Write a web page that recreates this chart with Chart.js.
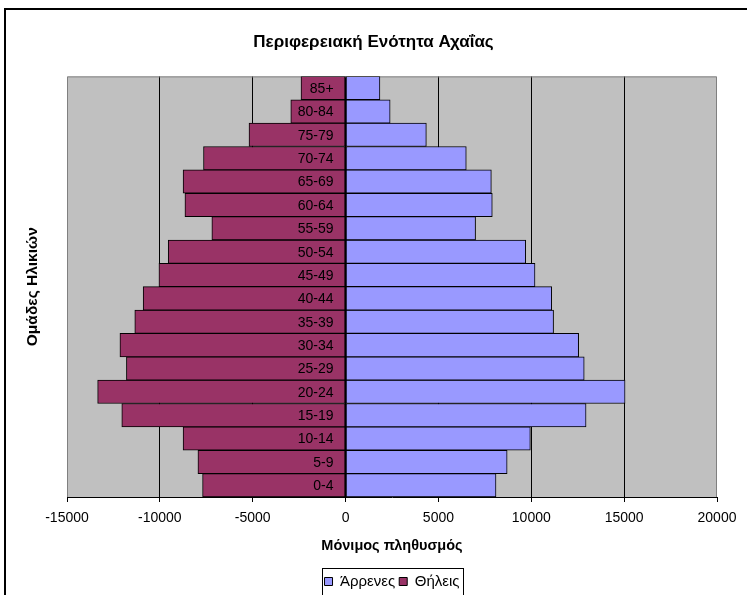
<!DOCTYPE html>
<html lang="el">
<head>
  <meta charset="UTF-8">
  <title>Περιφερειακή Ενότητα Αχαΐας</title>
  <script src="https://cdn.jsdelivr.net/npm/chart.js@4.4.1/dist/chart.umd.min.js"></script>
  <style>
    body { margin: 0; background: #fff; }
    canvas { display: block; }
  </style>
</head>
<body>
  <canvas id="myChart" width="747" height="595"></canvas>

  <script>
    const ageGroups = ['0-4', '5-9', '10-14', '15-19', '20-24', '25-29', '30-34', '35-39', '40-44',
                       '45-49', '50-54', '55-59', '60-64', '65-69', '70-74', '75-79', '80-84', '85+'];
    const males = [8100, 8700, 9950, 12950, 15050, 12850, 12550, 11200, 11100,
                   10200, 9700, 7000, 7900, 7850, 6500, 4350, 2400, 1850];
    const females = [-7700, -7950, -8750, -12050, -13350, -11800, -12150, -11350, -10900,
                     -10050, -9550, -7200, -8650, -8750, -7650, -5200, -2950, -2400];
    const xTicks = [-15000, -10000, -5000, 0, 5000, 10000, 15000, 20000];

    const FONT = 'Liberation Sans, Arial, sans-serif';

    // gray plot background, outer frame
    const frame = {
      id: 'frame',
      beforeDraw(chart) {
        const {ctx, chartArea: a} = chart;
        ctx.save();
        ctx.fillStyle = '#fff';
        ctx.fillRect(0, 0, chart.width, chart.height);
        ctx.strokeStyle = '#000';
        ctx.lineWidth = 2;
        ctx.strokeRect(5, 9, 800, 700);
        ctx.fillStyle = '#C0C0C0';
        ctx.fillRect(a.left, a.top, a.right - a.left, a.bottom - a.top);
        ctx.restore();
      },
      beforeDatasetsDraw(chart) {
        const {ctx, chartArea: a} = chart;
        ctx.save();
        ctx.strokeStyle = '#808080';
        ctx.lineWidth = 1;
        ctx.beginPath();
        ctx.moveTo(a.left + 0.5, a.bottom);
        ctx.lineTo(a.left + 0.5, a.top + 0.5);
        ctx.lineTo(a.right - 0.5, a.top + 0.5);
        ctx.lineTo(a.right - 0.5, a.bottom);
        ctx.stroke();
        ctx.restore();
      },
      afterDatasetsDraw(chart) {
        // age labels next to the zero line
        const {ctx} = chart;
        const x0 = chart.scales.x.getPixelForValue(0);
        ctx.save();
        ctx.font = '14px ' + FONT;
        ctx.fillStyle = '#000';
        ctx.textAlign = 'right';
        ctx.textBaseline = 'middle';
        ageGroups.forEach((g, i) => {
          ctx.fillText(g, x0 - 12, chart.scales.y.getPixelForValue(i) + 1);
        });
        ctx.restore();
      },
      afterDraw(chart) {
        // box round the legend
        const boxes = chart.legend.legendHitBoxes;
        if (!boxes.length) return;
        const l = Math.min(...boxes.map(b => b.left)) - 3;
        const r = Math.max(...boxes.map(b => b.left + b.width)) + 3;
        const t = Math.min(...boxes.map(b => b.top)) - 6;
        const ctx = chart.ctx;
        ctx.save();
        ctx.strokeStyle = '#000';
        ctx.lineWidth = 1;
        ctx.strokeRect(Math.round(l) + 0.5, Math.round(t) + 0.5, Math.round(r - l), 40);
        ctx.restore();
      }
    };

    const ctx = document.getElementById('myChart').getContext('2d');
    const myChart = new Chart(ctx, {
      type: 'bar',
      data: {
        labels: ageGroups,
        datasets: [{
          label: 'Άρρενες',
          data: males,
          backgroundColor: '#9999FF',
          borderColor: '#000',
          borderWidth: 1,
          borderSkipped: false,
          barPercentage: 1,
          categoryPercentage: 1
        }, {
          label: 'Θήλεις',
          data: females,
          backgroundColor: '#993366',
          borderColor: '#000',
          borderWidth: 1,
          borderSkipped: false,
          barPercentage: 1,
          categoryPercentage: 1
        }]
      },
      options: {
        indexAxis: 'y',
        responsive: false,
        animation: false,
        layout: { padding: { left: 0, right: 0, top: 0, bottom: -4 } },
        scales: {
          x: {
            stacked: true,
            min: -15000,
            max: 20000,
            afterBuildTicks: s => { s.ticks = xTicks.map(v => ({value: v})); },
            afterFit: s => { s.height = 73; },
            grid: {
              color: c => (c.tick && (c.tick.value === -15000 || c.tick.value === 20000)) ? 'rgba(0,0,0,0)' : '#000',
              tickColor: '#000',
              tickLength: 5,
              lineWidth: 1
            },
            border: { display: true, color: '#000', width: 1 },
            ticks: {
              color: '#000',
              font: { family: FONT, size: 14 },
              padding: 8,
              maxRotation: 0,
              callback: v => String(v)
            },
            title: {
              display: true,
              text: 'Μόνιμος πληθυσμός',
              color: '#000',
              font: { family: FONT, size: 14.5, weight: 'bold' },
              padding: { top: 0, bottom: 15 }
            }
          },
          y: {
            stacked: true,
            reverse: true,
            afterFit: s => { s.width = 67; },
            grid: { display: false },
            border: { display: false },
            ticks: { display: false },
            title: {
              display: true,
              text: 'Ομάδες Ηλικιών',
              color: '#000',
              font: { family: FONT, size: 15.5, weight: 'bold' },
              padding: { top: 23, bottom: 0 }
            }
          },
          // empty right margin so the title stays centred on the page
          yRight: {
            type: 'category',
            labels: ageGroups,
            position: 'right',
            afterFit: s => { s.width = 30; },
            grid: { display: false },
            border: { display: false },
            ticks: { display: false }
          }
        },
        plugins: {
          title: {
            display: true,
            text: 'Περιφερειακή Ενότητα Αχαΐας',
            color: '#000',
            font: { family: FONT, size: 17, weight: 'bold' },
            padding: { top: 32, bottom: 24 }
          },
          legend: {
            position: 'bottom',
            fullSize: false,
            labels: {
              boxWidth: 8,
              boxHeight: 8,
              padding: 4,
              color: '#000',
              font: { family: FONT, size: 15 },
              generateLabels: chart => chart.data.datasets.map((d, i) => ({
                text: d.label,
                fillStyle: d.backgroundColor,
                strokeStyle: '#000',
                lineWidth: 1,
                datasetIndex: i
              }))
            }
          },
          tooltip: { enabled: false }
        }
      },
      plugins: [frame]
    });
  </script>
</body>
</html>
